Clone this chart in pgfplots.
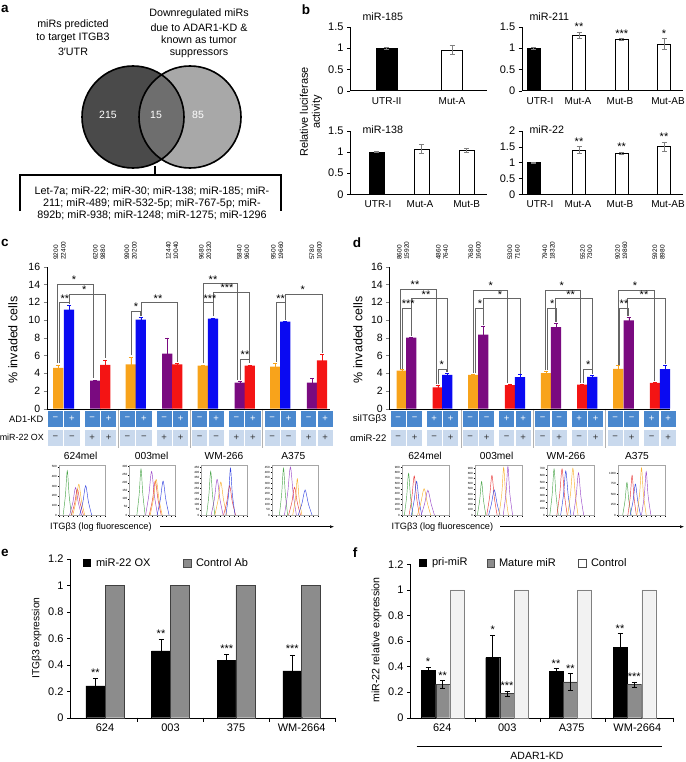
\documentclass[border=0pt]{standalone}
\usepackage{fontspec}
\setmainfont{Liberation Sans}
\usepackage{pgfplots}
\pgfplotsset{compat=1.18}
\usetikzlibrary{arrows.meta}
\newcommand{\fs}[1]{\fontsize{#1}{#1}\selectfont}
\definecolor{vdark}{HTML}{4A4A4A}
\definecolor{vmid}{HTML}{6E6E6E}
\definecolor{vlight}{HTML}{A8A8A8}
\definecolor{corange}{HTML}{F8A31B}
\definecolor{cblue}{HTML}{0A0AF2}
\definecolor{cpurple}{HTML}{7A0A80}
\definecolor{cred}{HTML}{F41414}
\definecolor{cellA}{HTML}{4A88CE}
\definecolor{cellB}{HTML}{C9D9ED}
\definecolor{hgreen}{HTML}{4CA64C}
\definecolor{hpurple}{HTML}{9A48C8}
\definecolor{hred}{HTML}{E83A3A}
\definecolor{horange}{HTML}{F8B030}
\definecolor{hblue}{HTML}{3040E0}
\definecolor{egray}{HTML}{8C8C8C}
\definecolor{fwhite}{HTML}{F2F2F2}
\pgfplotsset{
 every axis/.append style={/pgf/number format/assume math mode=true, /pgf/number format/1000 sep={}},
 bst/.style={scale only axis, anchor=south west, axis x line*=bottom, axis y line*=left, ymin=0,
   xtick style={draw=none}, ytick style={black}, tick align=outside, major tick length=3pt, clip=false,
   xticklabel style={font=\fs{10}}, yticklabel style={font=\fs{11}},
   error bars/y dir=both, error bars/y explicit,
   error bars/error bar style={gray, line width=0.6pt},
   error bars/error mark options={rotate=90, mark size=2.5pt, gray, line width=0.6pt}},
 cst/.style={scale only axis, anchor=south west, axis x line*=bottom, axis y line*=left,
   ymin=0, ymax=16, ytick={0,2,4,6,8,10,12,14,16}, xtick=\empty, height=142pt,
   tick align=outside, major tick length=3pt, clip=false, tick label style={font=\fs{10.5}},
   error bars/y dir=both, error bars/y explicit},
 hist/.style={scale only axis, anchor=south west, height=50pt, xmin=0, xmax=10, ymin=0,
   axis line style={gray!70, line width=0.4pt}, xtick={0,1,2,3,4,5,6,7,8,9,10}, xticklabels={},
   tick style={black, line width=0.3pt}, major tick length=1.5pt, tick align=outside,
   xtick pos=bottom, ytick pos=left, yticklabel style={font=\fs{3}, inner sep=0.5pt},
   every axis plot/.append style={smooth, line width=0.45pt, mark=none}},
 est/.style={scale only axis, anchor=south west, axis x line*=bottom, axis y line*=left,
   ymin=0, ymax=1.2, ytick={0,0.2,0.4,0.6,0.8,1,1.2}, xtick style={draw=none}, ytick style={black},
   tick align=outside, major tick length=3pt, clip=false, tick label style={font=\fs{11}},
   yticklabel style={/pgf/number format/fixed},
   error bars/y dir=both, error bars/y explicit,
   error bars/error bar style={black, line width=0.6pt},
   error bars/error mark options={rotate=90, mark size=2.5pt, black, line width=0.6pt}},
 barp/.style={ybar, bar shift=0pt}
}
\newcommand{\brk}[7]{\draw[black!60, line width=0.5pt] (axis cs:#1,#2) |- (axis cs:#3,#5) -- (axis cs:#3,#4);
 \node[font=\fs{11}, anchor=south, inner sep=0.3pt] at (axis cs:#6,#5) {#7};}
\newcommand{\st}[3]{\node[font=\fs{11}, anchor=south, inner sep=0.5pt] at (axis cs:#1,#2) {#3};}
\newcommand{\num}[3]{\node[font=\fs{6.5}, rotate=90, anchor=west, inner sep=0pt] at (#1,260) {#2};
 \node[font=\fs{6.5}, rotate=90, anchor=west, inner sep=0pt] at (#1+7.3,260) {#3};}
\begin{document}
\begin{tikzpicture}
\useasboundingbox (0pt,0pt) rectangle (685pt,-762pt);
\begin{scope}[x=1pt,y=-1pt]
 % panel letters
 \node[font={\fs{13.5}\bfseries}] at (5,9) {a};
 \node[font={\fs{13.5}\bfseries}] at (306,10) {b};
 \node[font={\fs{13.5}\bfseries}] at (5,243) {c};
 \node[font={\fs{13.5}\bfseries}] at (357,243) {d};
 \node[font={\fs{13.5}\bfseries}] at (5,553) {e};
 \node[font={\fs{13.5}\bfseries}] at (355,553) {f};
 % Venn
 \fill[vlight] (190,117) circle (51pt);
 \fill[vdark] (133,117) circle (51pt);
 \begin{scope}\clip (133,117) circle (51pt); \fill[vmid] (190,117) circle (51pt);\end{scope}
 \draw[line width=1.6pt] (133,117) circle (51pt);
 \draw[line width=1.6pt] (190,117) circle (51pt);
 \node[white, font=\fs{10.5}] at (108,115) {215};
 \node[white, font=\fs{10.5}] at (156,115) {15};
 \node[white, font=\fs{10.5}] at (198,115) {85};
 \begin{scope}[font=\fs{10.7}]
 \node at (73,25) {miRs predicted};
 \node at (73,38.3) {to target ITGB3};
 \node at (73,51.7) {3′UTR};
 \node at (199,14) {Downregulated miRs};
 \node at (199,27.3) {due to ADAR1-KD \&};
 \node at (199,40) {known as tumor};
 \node at (199,53.3) {suppressors};
 \end{scope}
 \begin{scope}[font=\fs{10.8}]
 \node at (152,191.7) {Let-7a; miR-22; miR-30; miR-138; miR-185; miR-};
 \node at (152,203.3) {211; miR-489; miR-532-5p; miR-767-5p; miR-};
 \node at (152,215) {892b; miR-938; miR-1248; miR-1275; miR-1296};
 \end{scope}
 \draw[line width=1.6pt] (155,166) -- (155,175);
 \draw[line width=1.6pt] (20,211) -- (20,175) -- (280.7,175) -- (280.7,211);
 % panel b labels
 \node[rotate=90, font=\fs{11}, align=center] at (311,112) {Relative luciferase\\[1pt]activity};
 \node[anchor=west, font=\fs{10.7}] at (359,17) {miR-185};
 \node[anchor=west, font=\fs{10.7}] at (526,17) {miR-211};
 \node[anchor=west, font=\fs{10.7}] at (359,130) {miR-138};
 \node[anchor=west, font=\fs{10.7}] at (526,130) {miR-22};
 % panel c,d y labels
 \node[rotate=90, font=\fs{12.5}] at (13,340) {\% invaded cells};
 \node[rotate=90, font=\fs{12.5}] at (358,340) {\% invaded cells};
 % rotated numbers c
 \num{56}{9200}{22400}
 \num{95.5}{6200}{9880}
 \num{127}{9900}{20200}
 \num{168.5}{12440}{10040}
 \num{201.5}{9680}{20320}
 \num{239.5}{5840}{9600}
 \num{273.5}{9500}{19660}
 \num{312}{5780}{10800}
 % rotated numbers d
 \num{399.3}{8600}{15920}
 \num{438.3}{4860}{7640}
 \num{471}{7680}{16600}
 \num{510}{5300}{7160}
 \num{545}{7940}{18320}
 \num{582.7}{5520}{7300}
 \num{617.7}{9020}{19860}
 \num{655}{5920}{8980}
 % tables c
 \foreach \p in {63.7,135.7,207.9,280.3} {
   \fill[cellA] ({\p-15.8},410.7) rectangle ({\p-0.7},427.3);
   \fill[cellA] ({\p+0.7},410.7) rectangle ({\p+15.8},427.3);
   \fill[cellB] ({\p-15.8},429.8) rectangle ({\p-0.7},445.5);
   \fill[cellB] ({\p+0.7},429.8) rectangle ({\p+15.8},445.5);
   \node[white, font=\fs{9.5}] at ({\p-8.25},419) {−};
   \node[white, font=\fs{9.5}] at ({\p+8.25},419) {+};
   \node[black!80, font=\fs{9.5}] at ({\p-8.25},437.7) {−};
   \node[black!80, font=\fs{9.5}] at ({\p+8.25},437.7) {−};
 }
 \foreach \p in {100.3,172.3,244.7,317} {
   \fill[cellA] ({\p-15.8},410.7) rectangle ({\p-0.7},427.3);
   \fill[cellA] ({\p+0.7},410.7) rectangle ({\p+15.8},427.3);
   \fill[cellB] ({\p-15.8},429.8) rectangle ({\p-0.7},445.5);
   \fill[cellB] ({\p+0.7},429.8) rectangle ({\p+15.8},445.5);
   \node[white, font=\fs{9.5}] at ({\p-8.25},419) {−};
   \node[white, font=\fs{9.5}] at ({\p+8.25},419) {+};
   \node[black!80, font=\fs{9.5}] at ({\p-8.25},437.7) {+};
   \node[black!80, font=\fs{9.5}] at ({\p+8.25},437.7) {+};
 }
 % tables d
 \foreach \p in {406.5,478.3,551,623.5} {
   \fill[cellA] ({\p-15.8},410.7) rectangle ({\p-0.7},427.3);
   \fill[cellA] ({\p+0.7},410.7) rectangle ({\p+15.8},427.3);
   \fill[cellB] ({\p-15.8},429.8) rectangle ({\p-0.7},445.5);
   \fill[cellB] ({\p+0.7},429.8) rectangle ({\p+15.8},445.5);
   \node[white, font=\fs{9.5}] at ({\p-8.25},419) {−};
   \node[white, font=\fs{9.5}] at ({\p+8.25},419) {−};
   \node[black!80, font=\fs{9.5}] at ({\p-8.25},437.7) {−};
   \node[black!80, font=\fs{9.5}] at ({\p+8.25},437.7) {+};
 }
 \foreach \p in {442.5,515,587.3,660} {
   \fill[cellA] ({\p-15.8},410.7) rectangle ({\p-0.7},427.3);
   \fill[cellA] ({\p+0.7},410.7) rectangle ({\p+15.8},427.3);
   \fill[cellB] ({\p-15.8},429.8) rectangle ({\p-0.7},445.5);
   \fill[cellB] ({\p+0.7},429.8) rectangle ({\p+15.8},445.5);
   \node[white, font=\fs{9.5}] at ({\p-8.25},419) {+};
   \node[white, font=\fs{9.5}] at ({\p+8.25},419) {+};
   \node[black!80, font=\fs{9.5}] at ({\p-8.25},437.7) {−};
   \node[black!80, font=\fs{9.5}] at ({\p+8.25},437.7) {+};
 }
 \foreach \x in {118.3,190,262.3,461.7,533.3,605} {\draw[gray!60, line width=0.6pt] (\x,408.7) -- (\x,448);}
 \node[anchor=east, font=\fs{9.3}, inner sep=1pt] at (44.5,419) {AD1-KD};
 \node[anchor=east, font=\fs{8.9}, inner sep=0.5pt] at (44.5,437.7) {miR-22 OX};
 \node[anchor=east, font=\fs{9.5}, inner sep=1pt] at (387.5,419) {siITGβ3};
 \node[anchor=east, font=\fs{9.5}, inner sep=1pt] at (387.5,437.7) {αmiR-22};
 \begin{scope}[font=\fs{10.2}]
 \node at (80.7,455.7) {624mel}; \node at (151.7,455.7) {003mel};
 \node at (224,455.7) {WM-266}; \node at (293.3,455.7) {A375};
 \node at (425,455.7) {624mel}; \node at (496.7,455.7) {003mel};
 \node at (566,455.7) {WM-266}; \node at (637,455.7) {A375};
 \end{scope}
 \node[anchor=west, font=\fs{9.2}, inner sep=0pt] at (50,526.7) {ITGβ3 (log fluorescence)};
 \draw[-{Latex[length=4pt,width=3pt]}, line width=0.5pt] (160,526.7) -- (334,526.7);
 \node[anchor=west, font=\fs{9.2}, inner sep=0pt] at (391.5,526.7) {ITGβ3 (log fluorescence)};
 \draw[-{Latex[length=4pt,width=3pt]}, line width=0.5pt] (500,526.7) -- (684,526.7);
 % e,f labels and legends
 \node[rotate=90, font=\fs{10.3}] at (36.7,638) {ITGβ3 expression};
 \node[rotate=90, font=\fs{10.6}] at (376.7,640) {miR-22 relative expression};
 \fill[black] (82.7,559) rectangle (90.7,567);
 \node[anchor=west, font=\fs{11}] at (92.5,563) {miR-22 OX};
 \filldraw[fill=egray, draw=black!70, line width=0.4pt] (183.3,559) rectangle (190.7,567);
 \node[anchor=west, font=\fs{11}] at (192.5,563) {Control Ab};
 \fill[black] (419,559) rectangle (427,567);
 \node[anchor=west, font=\fs{11}] at (428.5,563) {pri-miR};
 \filldraw[fill=egray, draw=black!70, line width=0.4pt] (486.7,559) rectangle (494,567);
 \node[anchor=west, font=\fs{11}] at (495.5,563) {Mature miR};
 \filldraw[fill=white, draw=black!70, line width=0.4pt] (578.3,559) rectangle (586,567);
 \node[anchor=west, font=\fs{11}] at (587.5,563) {Control};
 \foreach \x in {137.3,203.3,269.3,335,475,540,605,673.3} {\draw[line width=0.5pt] (\x,717.7) -- (\x,721.5);}
 \draw[line width=0.5pt] (416.7,746) -- (661.7,746);
 \node[font=\fs{10.5}] at (537,756) {ADAR1-KD};
\end{scope}

% ---------- panel b ----------
\begin{axis}[bst, at={(350pt,-90.7pt)}, width=137pt, height=64pt, xmin=350, xmax=487, ymax=1.5,
  ytick={0,0.5,1,1.5}, xtick={386.7,452}, xticklabels={UTR-II,Mut-A}]
\addplot[barp, bar width=21, fill=black, draw=black] coordinates {(386.7,1.0) +- (0,0.02)};
\addplot[barp, bar width=21, fill=white, draw=black] coordinates {(452,0.96) +- (0,0.1)};
\end{axis}
\begin{axis}[bst, at={(521.7pt,-90.7pt)}, width=161.3pt, height=64pt, xmin=521.7, xmax=683, ymax=1.5,
  ytick={0,0.5,1,1.5}, xtick={540,578,620,668}, xticklabels={UTR-I,Mut-A,Mut-B,Mut-AB}]
\addplot[barp, bar width=13, fill=black, draw=black] coordinates {(533.7,1.0) +- (0,0.02)};
\addplot[barp, bar width=13, fill=white, draw=black] coordinates {(579,1.3) +- (0,0.08) (621.7,1.2) +- (0,0.02) (664,1.1) +- (0,0.12)};
\st{579}{1.4}{**} \st{621.7}{1.24}{***} \st{664}{1.24}{*}
\end{axis}
\begin{axis}[bst, at={(350pt,-194.3pt)}, width=137pt, height=63.6pt, xmin=350, xmax=487, ymax=1.5,
  ytick={0,0.5,1,1.5}, xtick={378,420,466.7}, xticklabels={UTR-I,Mut-A,Mut-B}]
\addplot[barp, bar width=15, fill=black, draw=black] coordinates {(376.7,1.0) +- (0,0.02)};
\addplot[barp, bar width=15, fill=white, draw=black] coordinates {(421.3,1.07) +- (0,0.1) (466.7,1.04) +- (0,0.05)};
\end{axis}
\begin{axis}[bst, at={(521.7pt,-194.3pt)}, width=161.3pt, height=63.6pt, xmin=521.7, xmax=683, ymax=2,
  ytick={0,0.5,1,1.5,2}, xtick={540,578,620,668}, xticklabels={UTR-I,Mut-A,Mut-B,Mut-AB}]
\addplot[barp, bar width=13, fill=black, draw=black] coordinates {(533.7,1.0) +- (0,0.02)};
\addplot[barp, bar width=13, fill=white, draw=black] coordinates {(579,1.4) +- (0,0.1) (621.7,1.3) +- (0,0.03) (664,1.5) +- (0,0.15)};
\st{579}{1.52}{**} \st{621.7}{1.35}{**} \st{664}{1.67}{**}
\end{axis}

% ---------- panel c ----------
\begin{axis}[cst, at={(46.7pt,-408.7pt)}, width=283.3pt, xmin=46.7, xmax=330]
\addplot[barp, bar width=10.3, fill=corange, draw=none, error bars/error bar style={corange}, error bars/error mark options={rotate=90,mark size=2pt,corange}]
 coordinates {(58.3,4.6) +- (0,0.3) (130.7,5.0) +- (0,0.8) (202.7,4.85) +- (0,0.1) (275.3,4.75) +- (0,0.4)};
\addplot[barp, bar width=10.3, fill=cblue, draw=none, error bars/error bar style={cblue}, error bars/error mark options={rotate=90,mark size=2pt,cblue}]
 coordinates {(69,11.15) +- (0,0.5) (140.7,10.05) +- (0,0.3) (213,10.15) +- (0,0.05) (285.3,9.8) +- (0,0.05)};
\addplot[barp, bar width=10.3, fill=cpurple, draw=none, error bars/error bar style={cpurple}, error bars/error mark options={rotate=90,mark size=2pt,cpurple}]
 coordinates {(95.3,3.15) +- (0,0.05) (167.3,6.2) +- (0,1.8) (239.7,2.95) +- (0,0.1) (312,2.95) +- (0,0.45)};
\addplot[barp, bar width=10.3, fill=cred, draw=none, error bars/error bar style={cred}, error bars/error mark options={rotate=90,mark size=2pt,cred}]
 coordinates {(105.3,4.95) +- (0,0.55) (177.3,5.0) +- (0,0.1) (249.7,4.85) +- (0,0.05) (322,5.45) +- (0,0.7)};
\brk{57.5}{5.2}{93}{3.5}{14.0}{74}{*}
\brk{69.3}{11.9}{105}{5.7}{12.9}{84.3}{*}
\brk{59.3}{5.2}{69.3}{11.9}{11.95}{65}{**}
\brk{131.7}{6.0}{140}{10.5}{11.0}{136}{*}
\brk{141}{10.5}{177.3}{5.3}{11.95}{158}{**}
\brk{203.3}{5.1}{237.3}{3.2}{14.1}{213}{**}
\brk{213.3}{10.4}{249.3}{5.1}{13.1}{227}{***}
\brk{203.3}{5.1}{213.3}{10.4}{11.95}{210}{***}
\brk{240}{3.2}{249.3}{5.1}{5.6}{245}{**}
\brk{276}{5.3}{285.3}{10.0}{11.95}{280.7}{**}
\brk{285.3}{10.0}{322}{6.3}{12.9}{302.7}{*}
\end{axis}

% ---------- panel d ----------
\begin{axis}[cst, at={(389.3pt,-408.7pt)}, width=280.7pt, xmin=389.3, xmax=670]
\addplot[barp, bar width=10.3, fill=corange, draw=none, error bars/error bar style={corange}, error bars/error mark options={rotate=90,mark size=2pt,corange}]
 coordinates {(401.7,4.3) +- (0,0.1) (473.3,3.8) +- (0,0.1) (546,4.0) +- (0,0.2) (618.3,4.5) +- (0,0.35)};
\addplot[barp, bar width=10.3, fill=cpurple, draw=none, error bars/error bar style={cpurple}, error bars/error mark options={rotate=90,mark size=2pt,cpurple}]
 coordinates {(411.3,8.0) +- (0,0.05) (483.3,8.35) +- (0,1.0) (556,9.2) +- (0,0.45) (628.7,9.95) +- (0,0.35)};
\addplot[barp, bar width=10.3, fill=cred, draw=none, error bars/error bar style={cred}, error bars/error mark options={rotate=90,mark size=2pt,cred}]
 coordinates {(437.7,2.4) +- (0,0.2) (510,2.65) +- (0,0.15) (582.3,2.7) +- (0,0.05) (655,2.9) +- (0,0.05)};
\addplot[barp, bar width=10.3, fill=cblue, draw=none, error bars/error bar style={cblue}, error bars/error mark options={rotate=90,mark size=2pt,cblue}]
 coordinates {(447.3,3.8) +- (0,0.15) (520,3.55) +- (0,0.3) (592.3,3.6) +- (0,0.15) (665,4.45) +- (0,0.4)};
\brk{400.7}{4.5}{436}{2.75}{13.5}{415}{**}
\brk{411.7}{8.15}{447.3}{4.1}{12.4}{426}{**}
\brk{402.7}{4.5}{411.7}{8.15}{11.35}{408.3}{***}
\brk{438.3}{2.75}{446.7}{4.1}{4.45}{441.7}{*}
\brk{473.3}{4.0}{507.7}{2.9}{13.4}{490.7}{*}
\brk{483.3}{9.4}{520}{3.95}{12.4}{500}{*}
\brk{475}{4.0}{483.3}{9.4}{11.35}{480}{*}
\brk{545}{4.35}{580.7}{2.9}{13.4}{561.7}{*}
\brk{555}{9.75}{592.3}{3.9}{12.4}{570.7}{**}
\brk{547.3}{4.35}{556}{9.75}{11.35}{552.3}{*}
\brk{583.3}{2.9}{592.3}{3.9}{4.45}{588.3}{*}
\brk{618.3}{4.95}{654}{3.1}{13.4}{635}{*}
\brk{627.3}{10.4}{665}{5.0}{12.4}{644}{**}
\brk{619.3}{4.95}{628.3}{10.4}{11.35}{624}{**}
\end{axis}

% ---------- histograms c ----------
\begin{axis}[hist, at={(59pt,-515pt)}, width=46pt, ymax=520, ytick={0,100,200,300,400,500}]
\addplot[hgreen] coordinates {(0.9,0)(1.4,207)(1.8,460)(2.2,207)(2.7,0)};
\addplot[hpurple] coordinates {(2.3,0)(3.0,128)(3.6,285)(4.2,128)(4.9,0)};
\addplot[hred] coordinates {(2.7,0)(3.4,122)(4.0,270)(4.6,122)(5.3,0)};
\addplot[horange] coordinates {(3.0,0)(3.7,144)(4.3,320)(4.9,144)(5.6,0)};
\addplot[hblue] coordinates {(4.5,0)(5.2,137)(5.8,305)(6.4,137)(7.1,0)};
\end{axis}
\begin{axis}[hist, at={(129.5pt,-515pt)}, width=46pt, ymax=310, ytick={0,50,100,150,200,250,300}]
\addplot[hgreen] coordinates {(1.6,0)(2.1,128)(2.5,285)(2.9,128)(3.4,0)};
\addplot[hpurple] coordinates {(3.5,0)(4.2,122)(4.8,270)(5.4,122)(6.1,0)};
\addplot[hred] coordinates {(4.3,0)(5.0,95)(5.6,210)(6.2,95)(6.9,0)};
\addplot[horange] coordinates {(4.5,0)(5.2,99)(5.8,220)(6.4,99)(7.1,0)};
\addplot[hblue] coordinates {(6.0,0)(6.7,95)(7.3,210)(7.9,95)(8.6,0)};
\end{axis}
\begin{axis}[hist, at={(201.5pt,-515pt)}, width=46pt, ymax=470, ytick={0,50,100,150,200,250,300,350,400,450}]
\addplot[hgreen] coordinates {(1.1,0)(1.6,185)(2.0,410)(2.4,185)(2.9,0)};
\addplot[hpurple] coordinates {(2.1,0)(2.8,151)(3.4,335)(4.0,151)(4.7,0)};
\addplot[horange] coordinates {(2.9,0)(3.6,140)(4.2,310)(4.8,140)(5.5,0)};
\addplot[hred] coordinates {(4.8,0)(5.5,124)(6.1,275)(6.7,124)(7.4,0)};
\addplot[hblue] coordinates {(5.3,0)(5.9,198)(6.3,440)(6.7,198)(7.3,0)};
\end{axis}
\begin{axis}[hist, at={(272pt,-515pt)}, width=46pt, ymax=470, ytick={0,50,100,150,200,250,300,350,400,450}]
\addplot[hgreen] coordinates {(1.6,0)(2.1,198)(2.5,440)(2.9,198)(3.4,0)};
\addplot[hpurple] coordinates {(2.7,0)(3.4,203)(4.0,450)(4.6,203)(5.3,0)};
\addplot[hred] coordinates {(3.6,0)(4.3,117)(4.9,260)(5.5,117)(6.2,0)};
\addplot[horange] coordinates {(4.5,0)(5.1,153)(5.5,340)(5.9,153)(6.5,0)};
\addplot[hblue] coordinates {(5.7,0)(6.5,106)(7.2,235)(7.9,106)(8.7,0)};
\end{axis}
% ---------- histograms d ----------
\begin{axis}[hist, at={(402pt,-515pt)}, width=47pt, ymax=950, ytick={0,100,200,300,400,500,600,700,800,900}]
\addplot[hgreen] coordinates {(0.5,0)(1.0,356)(1.4,790)(1.8,356)(2.3,0)};
\addplot[hred] coordinates {(1.5,0)(2.1,333)(2.6,740)(3.1,333)(3.7,0)};
\addplot[hblue] coordinates {(2.0,0)(2.6,288)(3.1,640)(3.6,288)(4.2,0)};
\addplot[horange] coordinates {(3.3,0)(4.0,225)(4.7,500)(5.4,225)(6.1,0)};
\addplot[hpurple] coordinates {(4.1,0)(4.8,212)(5.5,470)(6.2,212)(6.9,0)};
\end{axis}
\begin{axis}[hist, at={(475pt,-515pt)}, width=47pt, ymax=960, ytick={0,100,200,300,400,500,600,700,800,900}]
\addplot[hgreen] coordinates {(0.5,0)(1.0,288)(1.4,640)(1.8,288)(2.3,0)};
\addplot[hred] coordinates {(2.5,0)(3.1,342)(3.6,760)(4.1,342)(4.7,0)};
\addplot[hblue] coordinates {(2.9,0)(3.5,216)(4.1,480)(4.7,216)(5.3,0)};
\addplot[horange] coordinates {(5.1,0)(5.7,410)(6.1,910)(6.5,410)(7.1,0)};
\addplot[hpurple] coordinates {(6.0,0)(6.6,419)(7.0,930)(7.4,419)(8.0,0)};
\end{axis}
\begin{axis}[hist, at={(547pt,-515pt)}, width=47pt, ymax=760, ytick={0,100,200,300,400,500,600,700}]
\addplot[hgreen] coordinates {(0.6,0)(1.1,315)(1.5,700)(1.9,315)(2.4,0)};
\addplot[hred] coordinates {(2.1,0)(2.7,315)(3.2,700)(3.7,315)(4.3,0)};
\addplot[hblue] coordinates {(2.9,0)(3.5,302)(4.0,670)(4.5,302)(5.1,0)};
\addplot[horange] coordinates {(4.4,0)(5.0,320)(5.5,710)(6.0,320)(6.6,0)};
\addplot[hpurple] coordinates {(5.6,0)(6.2,288)(6.7,640)(7.2,288)(7.8,0)};
\end{axis}
\begin{axis}[hist, at={(618pt,-515pt)}, width=47pt, ymax=1200, ytick={0,250,500,750,1000}]
\addplot[hgreen] coordinates {(1.0,0)(1.5,351)(1.9,780)(2.3,351)(2.8,0)};
\addplot[hred] coordinates {(2.1,0)(2.6,428)(3.0,950)(3.4,428)(3.9,0)};
\addplot[hblue] coordinates {(2.6,0)(3.2,333)(3.7,740)(4.2,333)(4.8,0)};
\addplot[horange] coordinates {(4.0,0)(4.6,509)(5.0,1130)(5.4,509)(6.0,0)};
\addplot[hpurple] coordinates {(5.0,0)(5.6,468)(6.0,1040)(6.4,468)(7.0,0)};
\end{axis}

% ---------- panel e ----------
\begin{axis}[est, at={(70pt,-717.7pt)}, width=265pt, height=158.7pt, xmin=70, xmax=335,
  xtick={105,170.5,236,301.7}, xticklabels={624,003,375,WM-2664}]
\addplot[barp, bar width=19, fill=black, draw=black, error bars/y dir=plus] coordinates {(95.3,0.24) +- (0,0.06) (161,0.505) +- (0,0.085) (226.7,0.435) +- (0,0.045) (292.3,0.355) +- (0,0.12)};
\addplot[barp, bar width=19, fill=egray, draw=black!75, error bars/y dir=none] coordinates {(114.7,1) (180,1) (245.3,1) (311,1)};
\st{95.3}{0.31}{**} \st{161}{0.6}{**} \st{226.7}{0.49}{***} \st{292.3}{0.485}{***}
\end{axis}

% ---------- panel f ----------
\begin{axis}[est, at={(410pt,-717.7pt)}, width=263.3pt, height=153.4pt, xmin=410, xmax=673.3,
  xtick={442.3,507.3,571.7,637.3}, xticklabels={624,003,A375,WM-2664}]
\addplot[barp, bar width=14, fill=black, draw=black] coordinates {(428,0.37) +- (0,0.025) (492.7,0.47) +- (0,0.175) (556,0.36) +- (0,0.025) (620,0.55) +- (0,0.11)};
\addplot[barp, bar width=14, fill=egray, draw=black!75] coordinates {(442.7,0.26) +- (0,0.03) (507,0.19) +- (0,0.02) (570.3,0.28) +- (0,0.065) (634.3,0.26) +- (0,0.02)};
\addplot[barp, bar width=14, fill=fwhite, draw=gray, error bars/y dir=none] coordinates {(457,1) (521,1) (584.3,1) (648.7,1)};
\st{428}{0.4}{*} \st{442.7}{0.295}{**} \st{492.7}{0.65}{*} \st{507}{0.215}{***}
\st{556}{0.39}{**} \st{570.3}{0.35}{**} \st{620}{0.665}{**} \st{634.3}{0.285}{***}
\end{axis}
\end{tikzpicture}
\end{document}
